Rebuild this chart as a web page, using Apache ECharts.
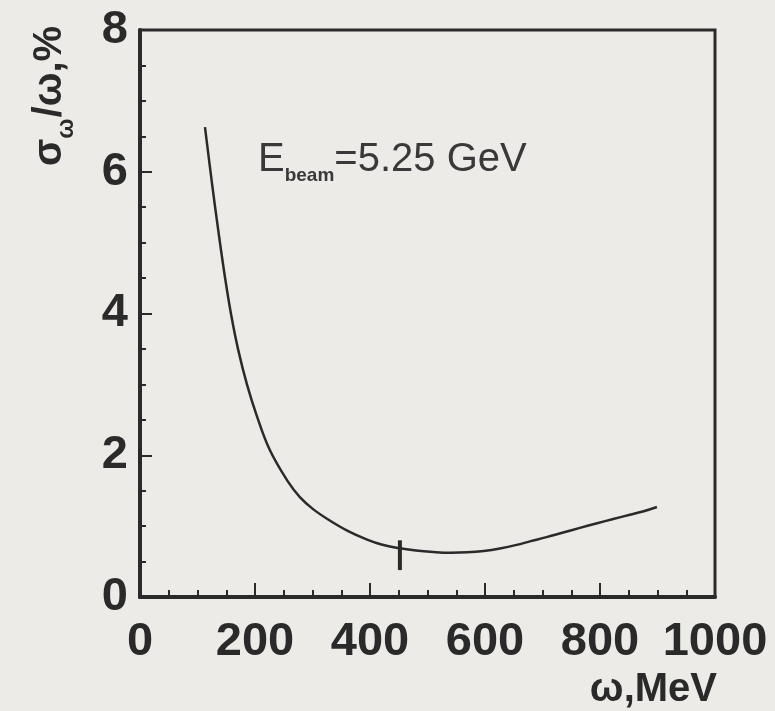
<!DOCTYPE html>
<html>
<head>
<meta charset="utf-8">
<script src="https://cdn.jsdelivr.net/npm/echarts@6/dist/echarts.min.js"></script>
<style>
  html, body { margin: 0; padding: 0; background: #ecebe8; }
  #chart { width: 775px; height: 711px; }
</style>
</head>
<body>
<div id="chart"></div>
<script>
// curve: omega in MeV, sigma/omega in %
const omega = [113, 125, 136, 148, 159, 171, 186, 203, 226, 258, 278, 301, 330, 362, 395, 420, 449, 480, 510, 540, 569, 598, 626, 655, 678, 707, 736, 765, 795, 823, 852, 876, 899]
const sigma = [6.63, 5.85, 5.18, 4.50, 3.96, 3.48, 3.00, 2.56, 2.07, 1.62, 1.41, 1.24, 1.08, 0.93, 0.81, 0.74, 0.69, 0.655, 0.635, 0.625, 0.63, 0.65, 0.685, 0.735, 0.785, 0.845, 0.91, 0.975, 1.04, 1.10, 1.16, 1.21, 1.27]
// vertical bar on the curve
const barOmega = [452, 452]
const barSigma = [0.80, 0.38]
const xTicks = [0, 200, 400, 600, 800, 1000]
const yTicks = [0, 2, 4, 6, 8]

const ink = '#2b2a2a'
const chart = echarts.init(document.getElementById('chart'))

const option = {
  backgroundColor: '#ecebe8',
  animation: false,
  grid: {
    left: 140,
    right: 60,
    top: 30,
    bottom: 114,
    show: true,
    borderColor: ink,
    borderWidth: 3,
    backgroundColor: 'transparent'
  },
  xAxis: {
    type: 'value',
    min: xTicks[0],
    max: xTicks[xTicks.length - 1],
    interval: 200,
    axisLine: { show: true, lineStyle: { color: ink, width: 4 } },
    axisTick: { show: true, inside: true, length: 14, lineStyle: { color: ink, width: 2 } },
    minorTick: { show: true, splitNumber: 4, length: 7, lineStyle: { color: ink, width: 2 } },
    splitLine: { show: false },
    axisLabel: {
      margin: 22,
      color: ink,
      fontFamily: 'Liberation Sans',
      fontWeight: 'bold',
      fontSize: 47,
      showMinLabel: true,
      showMaxLabel: true,
      formatter: v => String(v)
    }
  },
  yAxis: {
    type: 'value',
    min: yTicks[0],
    max: yTicks[yTicks.length - 1],
    interval: 2,
    axisLine: { show: true, lineStyle: { color: ink, width: 4 } },
    axisTick: { show: true, inside: true, length: 12, lineStyle: { color: ink, width: 2 } },
    minorTick: { show: true, splitNumber: 4, length: 6, lineStyle: { color: ink, width: 2 } },
    splitLine: { show: false },
    axisLabel: {
      margin: 12,
      color: ink,
      fontFamily: 'Liberation Sans',
      fontWeight: 'bold',
      fontSize: 47,
      formatter: v => String(v)
    }
  },
  graphic: [
    {
      // y axis name, rotated
      type: 'text',
      x: 52,
      y: 96,
      rotation: Math.PI / 2,
      style: {
        text: '{a|σ}{s|ω}{a|/ω,%}',
        align: 'center',
        verticalAlign: 'middle',
        fill: ink,
        rich: {
          a: { fontFamily: 'Liberation Sans', fontWeight: 'bold', fontSize: 40, lineHeight: 44, verticalAlign: 'top', fill: ink },
          s: { fontFamily: 'Liberation Sans', fontWeight: 'bold', fontSize: 24, lineHeight: 24, verticalAlign: 'top', padding: [24, 1, 0, 0], fill: ink }
        }
      }
    },
    {
      type: 'text',
      x: 258,
      y: 162,
      style: {
        text: '{e|E}{s|beam}{e|=5.25 GeV}',
        align: 'left',
        verticalAlign: 'middle',
        fill: ink,
        rich: {
          e: { fontFamily: 'Liberation Sans', fontSize: 40, lineHeight: 44, verticalAlign: 'top', fill: '#3a3838' },
          s: { fontFamily: 'Liberation Sans', fontWeight: 'bold', fontSize: 19, lineHeight: 19, verticalAlign: 'top', padding: [26, 0, 0, 0], fill: '#3a3838' }
        }
      }
    },
    {
      // x axis name
      type: 'text',
      x: 717,
      y: 690,
      style: {
        text: 'ω,MeV',
        align: 'right',
        verticalAlign: 'middle',
        fill: ink,
        fontFamily: 'Liberation Sans',
        fontWeight: 'bold',
        fontSize: 40
      }
    }
  ],
  series: [
    {
      name: 'resolution',
      type: 'line',
      smooth: 0.4,
      showSymbol: false,
      lineStyle: { color: ink, width: 2.5 },
      data: omega.map((w, i) => [w, sigma[i]])
    },
    {
      name: 'bar',
      type: 'line',
      showSymbol: false,
      lineStyle: { color: ink, width: 4 },
      data: barOmega.map((w, i) => [w, barSigma[i]])
    }
  ]
}

chart.setOption(option)
</script>
</body>
</html>
